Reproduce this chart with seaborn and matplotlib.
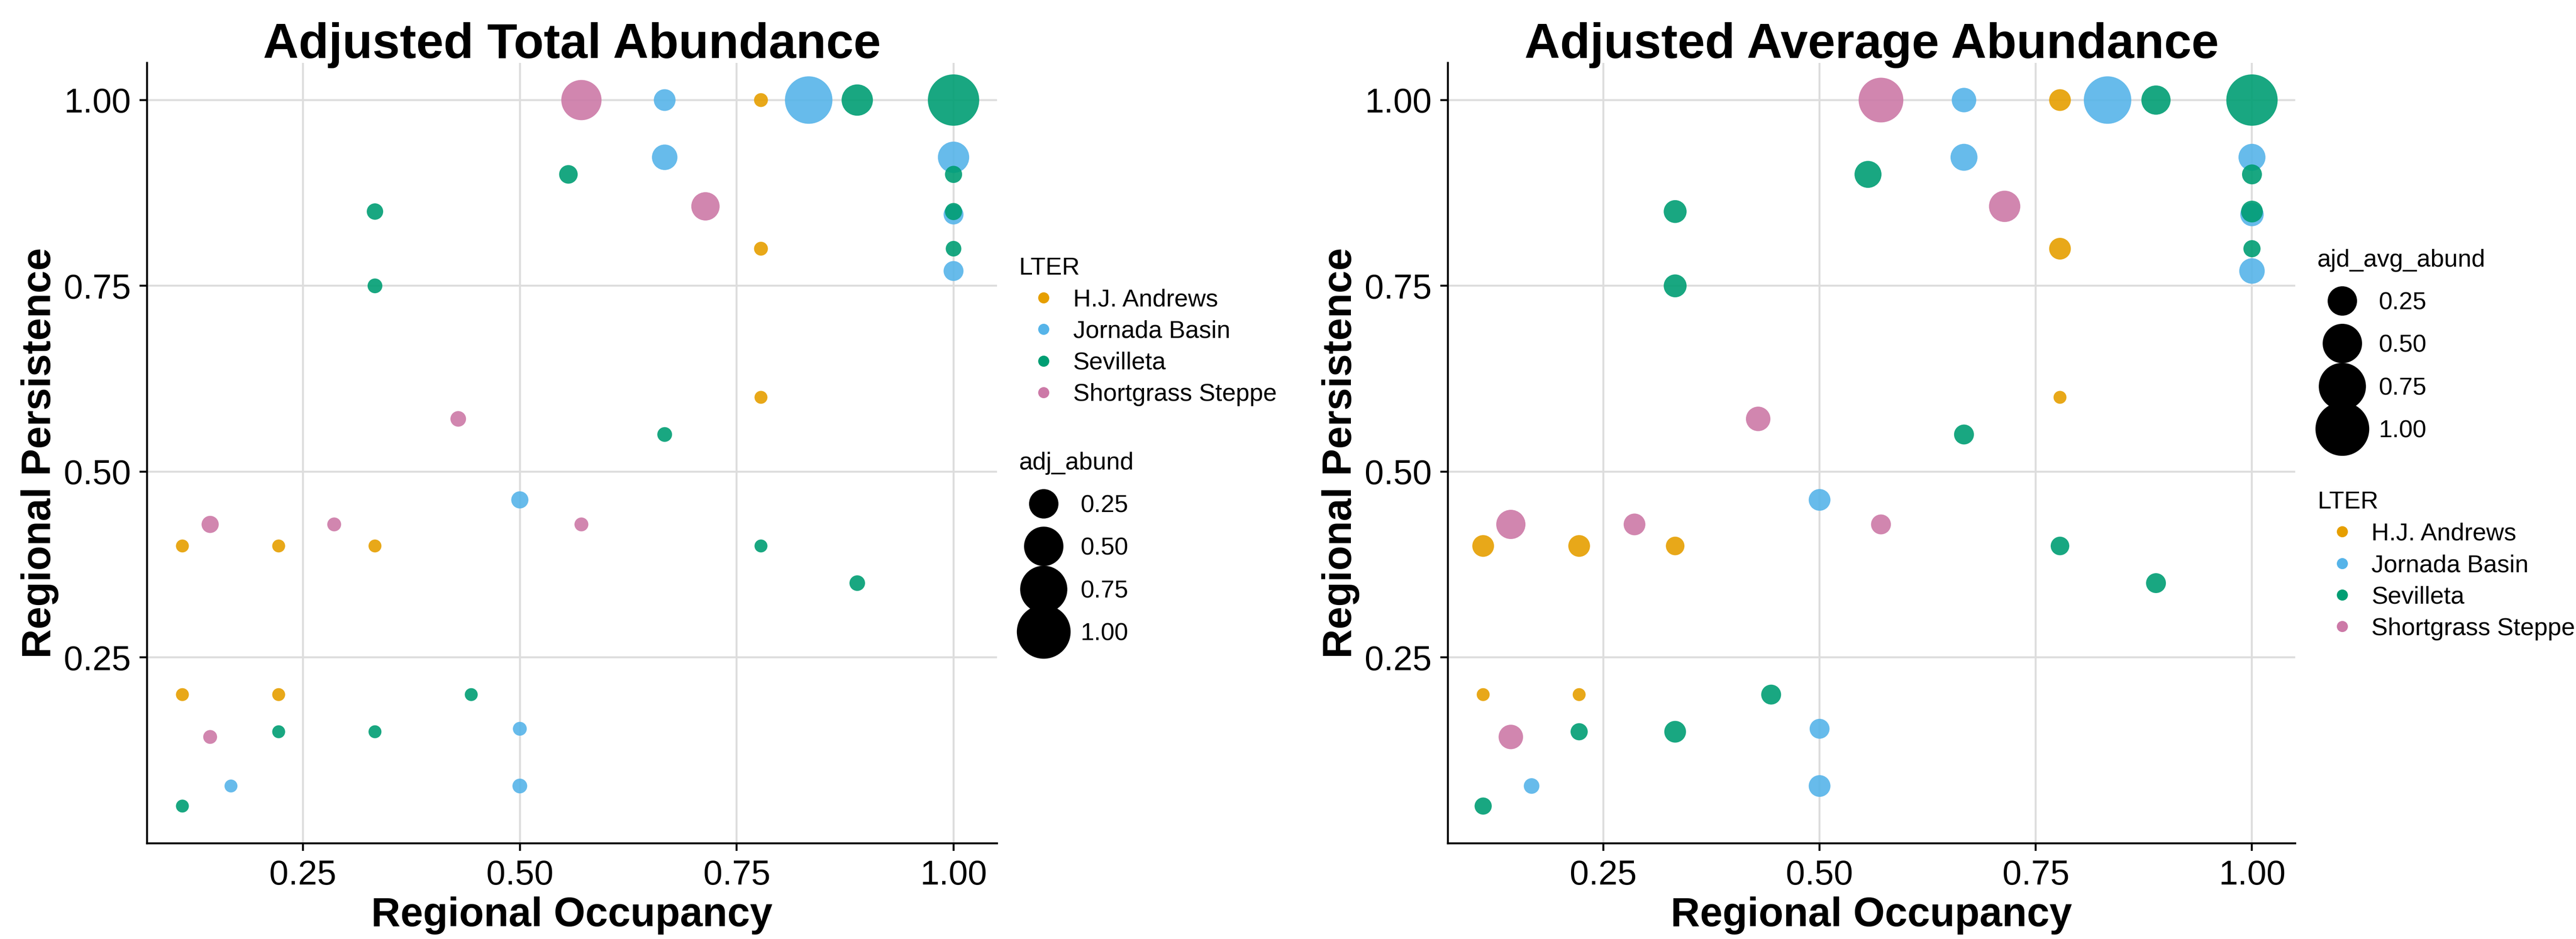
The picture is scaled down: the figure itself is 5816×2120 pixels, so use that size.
import numpy as np
import pandas as pd
import matplotlib
matplotlib.use("Agg")
import matplotlib.pyplot as plt
import seaborn as sns
from matplotlib.lines import Line2D

lter = (["H.J. Andrews"] * 8 + ["Jornada Basin"] * 10 + ["Sevilleta"] * 15 + ["Shortgrass Steppe"] * 7)
occupancy = [0.111, 0.111, 0.222, 0.222, 0.333, 0.778, 0.778, 0.778,
             0.167, 0.5, 0.5, 0.5, 0.667, 0.667, 0.833, 1.0, 1.0, 1.0,
             0.111, 0.222, 0.333, 0.333, 0.333, 0.444, 0.556, 0.667, 0.778, 0.889, 0.889, 1.0, 1.0, 1.0, 1.0,
             0.143, 0.143, 0.286, 0.429, 0.571, 0.571, 0.714]
persistence = [0.4, 0.2, 0.4, 0.2, 0.4, 1.0, 0.8, 0.6,
               0.077, 0.077, 0.154, 0.462, 1.0, 0.923, 1.0, 0.923, 0.846, 0.77,
               0.05, 0.15, 0.15, 0.75, 0.85, 0.2, 0.9, 0.55, 0.4, 0.35, 1.0, 1.0, 0.9, 0.85, 0.8,
               0.143, 0.429, 0.429, 0.571, 0.429, 1.0, 0.857]
adj_abund = [0.03, 0.03, 0.03, 0.03, 0.03, 0.04, 0.04, 0.03,
             0.03, 0.05, 0.04, 0.08, 0.15, 0.22, 0.85, 0.35, 0.12, 0.12,
             0.03, 0.03, 0.03, 0.05, 0.07, 0.03, 0.1, 0.05, 0.03, 0.06, 0.35, 1.0, 0.08, 0.08, 0.06,
             0.04, 0.08, 0.04, 0.06, 0.04, 0.6, 0.28]
avg_abund = [0.15, 0.03, 0.15, 0.03, 0.1, 0.15, 0.15, 0.03,
             0.06, 0.15, 0.12, 0.15, 0.2, 0.25, 0.85, 0.25, 0.18, 0.22,
             0.08, 0.08, 0.15, 0.17, 0.17, 0.12, 0.25, 0.12, 0.1, 0.12, 0.3, 1.0, 0.12, 0.15, 0.08,
             0.2, 0.3, 0.15, 0.2, 0.12, 0.75, 0.35]

df = pd.DataFrame({"LTER": lter, "occ": occupancy, "pers": persistence,
                   "adj": adj_abund, "avg": avg_abund})
palette = {"H.J. Andrews": "#E69F00", "Jornada Basin": "#56B4E9",
           "Sevilleta": "#009E73", "Shortgrass Steppe": "#CC79A7"}

def size_of(v):
    return 15 + 420 * np.asarray(v)

sns.set_style("white")
plt.rcParams['font.family'] = ['Arial', 'Liberation Sans', 'DejaVu Sans']
plt.rcParams['text.color'] = 'black'

fig = plt.figure(figsize=(14.54, 5.3), dpi=400)
ax1 = fig.add_axes([0.057, 0.102, 0.330, 0.831])
ax2 = fig.add_axes([0.562, 0.102, 0.329, 0.831])

lter_handles = [Line2D([], [], marker="o", ls="", color=c, markersize=3.5, label=k)
                for k, c in palette.items()]
size_handles = [Line2D([], [], marker="o", ls="", color="black",
                       markersize=np.sqrt(size_of(v)), label=f"{v:.2f}")
                for v in [0.25, 0.5, 0.75, 1.0]]

for ax, col, title, sname in [(ax1, "adj", "Adjusted Total Abundance", "adj_abund"),
                              (ax2, "avg", "Adjusted Average Abundance", "ajd_avg_abund")]:
    sns.scatterplot(data=df, x="occ", y="pers", hue="LTER", palette=palette,
                    s=size_of(df[col]), alpha=0.9, linewidth=0, legend=False, ax=ax)
    ax.set_xlim(0.07, 1.05)
    ax.set_ylim(0.0, 1.05)
    ax.set_xticks([0.25, 0.5, 0.75, 1.0])
    ax.set_yticks([0.25, 0.5, 0.75, 1.0])
    ax.set_xticklabels(["0.25", "0.50", "0.75", "1.00"], fontsize=14, color="black")
    ax.set_yticklabels(["0.25", "0.50", "0.75", "1.00"], fontsize=14, color="black")
    ax.grid(True, color="#DDDDDD", linewidth=0.8)
    ax.set_axisbelow(True)
    for sp in ["top", "right"]:
        ax.spines[sp].set_visible(False)
    for sp in ["left", "bottom"]:
        ax.spines[sp].set_color("black")
        ax.spines[sp].set_linewidth(0.8)
    ax.tick_params(length=3, color="black", direction="out", bottom=True, left=True)
    ax.set_xlabel("Regional Occupancy", fontsize=16.5, fontweight="bold", labelpad=2, color="black")
    ax.set_ylabel("Regional Persistence", fontsize=16.5, fontweight="bold", labelpad=2, color="black")
    ax.set_title(title, fontsize=20, fontweight="bold", pad=2, color="black")

    leg_l = ax.legend(handles=lter_handles, title="LTER", frameon=False, fontsize=10,
                      title_fontsize=10, loc="upper left", alignment="left",
                      handletextpad=0.2, labelspacing=0.35)
    leg_s = ax.legend(handles=size_handles, title=sname, frameon=False, fontsize=10,
                      title_fontsize=10, loc="upper left", alignment="left",
                      handletextpad=0.5, labelspacing=0.8)
    if ax is ax1:
        leg_l.set_bbox_to_anchor((1.0, 0.78))
        leg_s.set_bbox_to_anchor((1.0, 0.53))
    else:
        leg_s.set_bbox_to_anchor((1.0, 0.79))
        leg_l.set_bbox_to_anchor((1.0, 0.48))
    ax.add_artist(leg_l)

fig.savefig("out.png", dpi=400)
